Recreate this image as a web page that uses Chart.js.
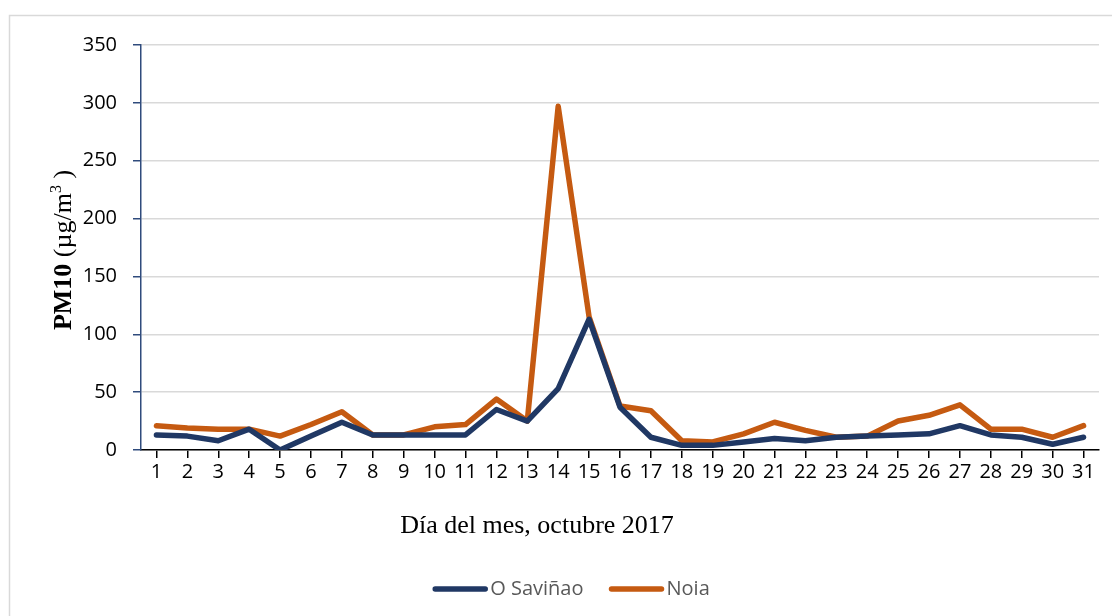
<!DOCTYPE html>
<html>
<head>
<meta charset="utf-8">
<script src="https://cdn.jsdelivr.net/npm/chart.js@4.4.0/dist/chart.umd.min.js"></script>
<style>
    html, body { margin: 0; padding: 0; background: #fff; }
    #wrap { width: 1112px; height: 616px; position: relative; }
</style>
</head>
<body>
<div id="wrap"><canvas id="graficoPM10" width="1112" height="616"></canvas></div>
<script>
// Datos: PM10 diario, octubre 2017
const dias = ['1', '2', '3', '4', '5', '6', '7', '8', '9', '10', '11', '12', '13', '14', '15', '16',
    '17', '18', '19', '20', '21', '22', '23', '24', '25', '26', '27', '28', '29', '30', '31'];
const saviniao = [13, 12, 8, 18, 0, 12, 24, 13, 13, 13, 13, 35, 25, 53, 113, 37,
    11, 4, 4, 7, 10, 8, 11, 12, 13, 14, 21, 13, 11, 5, 11];
const noia = [21, 19, 18, 18, 12, 22, 33, 13, 13, 20, 22, 44, 25, 297, 115, 38,
    34, 8, 7, 14, 24, 17, 11, 12, 25, 30, 39, 18, 18, 11, 21];
const yTicks = [0, 50, 100, 150, 200, 250, 300, 350];

const azul = '#203864';
const naranja = '#C55A11';
const ejeAzul = '#2F4B7C';
const fuenteTicks = { family: '"Open Sans", "Liberation Sans", sans-serif', size: 20 };

// titulos de ejes, borde y leyenda
const extras = {
    id: 'extras',
    beforeDraw(chart) {
        const ctx = chart.ctx;
        ctx.save();
        ctx.fillStyle = '#fff';
        ctx.fillRect(0, 0, chart.width, chart.height);
        ctx.strokeStyle = '#d9d9d9';
        ctx.lineWidth = 1.5;
        ctx.strokeRect(9.5, 15.5, 1300, 800);
        ctx.restore();
    },
    afterDraw(chart) {
        const ctx = chart.ctx;
        ctx.save();

        // titulo eje x
        ctx.fillStyle = '#000';
        ctx.font = '26px "Liberation Serif", "Times New Roman", serif';
        ctx.textAlign = 'center';
        ctx.textBaseline = 'alphabetic';
        ctx.fillText('Día del mes, octubre 2017', 537, 533);

        // titulo eje y (PM10 en negrita, m³)
        const partes = [
            { t: 'PM10', f: 'bold 26px "Liberation Serif", serif', dy: 0 },
            { t: ' (µg/m', f: '26px "Liberation Serif", serif', dy: 0 },
            { t: '3', f: '16px "Liberation Serif", serif', dy: -10 },
            { t: ' )', f: '26px "Liberation Serif", serif', dy: 0 }
        ];
        let total = 0;
        partes.forEach(p => { ctx.font = p.f; p.w = ctx.measureText(p.t).width; total += p.w; });
        ctx.translate(71, 250);
        ctx.rotate(-Math.PI / 2);
        ctx.textAlign = 'left';
        let x = -total / 2;
        partes.forEach(p => {
            ctx.font = p.f;
            ctx.fillText(p.t, x, p.dy);
            x += p.w;
        });
        ctx.setTransform(1, 0, 0, 1, 0, 0);

        // leyenda
        ctx.font = '20px "Open Sans", "Liberation Sans", sans-serif';
        ctx.textBaseline = 'middle';
        const largo = 56, gap = 2, sep = 25, yLeg = 589;
        const items = chart.data.datasets.map(ds => ({
            label: ds.label, color: ds.borderColor, w: ctx.measureText(ds.label).width
        }));
        let ancho = 0;
        items.forEach((it, i) => { ancho += largo + gap + it.w + (i ? sep : 0); });
        let lx = 571 - ancho / 2;
        items.forEach(it => {
            ctx.strokeStyle = it.color;
            ctx.lineWidth = 5.5;
            ctx.lineCap = 'round';
            ctx.beginPath();
            ctx.moveTo(lx + 3, yLeg);
            ctx.lineTo(lx + largo - 3, yLeg);
            ctx.stroke();
            ctx.fillStyle = '#595959';
            ctx.fillText(it.label, lx + largo + gap, yLeg);
            lx += largo + gap + it.w + sep;
        });
        ctx.restore();
    }
};

const ctx = document.getElementById('graficoPM10').getContext('2d');
new Chart(ctx, {
    type: 'line',
    data: {
        labels: dias,
        datasets: [
            {
                label: 'O Saviñao',
                data: saviniao,
                borderColor: azul,
                backgroundColor: azul,
                borderWidth: 5.5,
                pointRadius: 0,
                tension: 0,
                borderJoinStyle: 'round',
                borderCapStyle: 'round'
            },
            {
                label: 'Noia',
                data: noia,
                borderColor: naranja,
                backgroundColor: naranja,
                borderWidth: 5.5,
                pointRadius: 0,
                tension: 0,
                borderJoinStyle: 'round',
                borderCapStyle: 'round'
            }
        ]
    },
    options: {
        responsive: false,
        animation: false,
        devicePixelRatio: 1,
        layout: { padding: { top: 45, right: 13, left: 0, bottom: 0 } },
        plugins: {
            legend: { display: false },
            tooltip: { enabled: false }
        },
        scales: {
            x: {
                offset: true,
                grid: { drawOnChartArea: false, tickLength: 8, tickColor: '#000', lineWidth: 1.5 },
                border: { color: '#000', width: 1.5 },
                ticks: { font: fuenteTicks, color: '#000', padding: 2, maxRotation: 0, autoSkip: false },
                afterFit: scale => { scale.height = 166; }
            },
            y: {
                min: 0,
                max: 350,
                afterBuildTicks: scale => { scale.ticks = yTicks.map(v => ({ value: v })); },
                grid: { color: '#d9d9d9', lineWidth: 1.5, tickColor: ejeAzul, tickLength: 8 },
                border: { color: ejeAzul, width: 1.5 },
                ticks: { font: fuenteTicks, color: '#000', padding: 16 },
                afterFit: scale => { scale.width = 141; }
            }
        }
    },
    plugins: [extras]
});
</script>
</body>
</html>
